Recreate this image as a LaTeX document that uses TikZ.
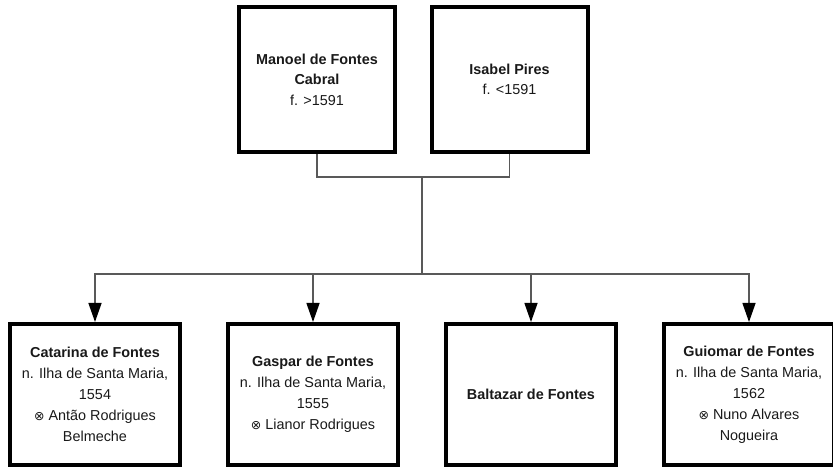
\documentclass[tikz,border=0pt]{standalone}
\usepackage{fontspec}
\setmainfont{Liberation Sans}
\newfontfamily\symfont{DejaVu Sans}
\usetikzlibrary{arrows.meta}
\tikzset{
 person/.style={draw=black, line width=4pt, minimum width=156pt, minimum height=145pt, align=center, inner sep=0pt, text=black!90, font=\fontsize{14.4}{20.5}\selectfont},
 childbox/.style={person, minimum width=170pt, minimum height=141pt, font=\fontsize{14.4}{21}\selectfont},
 link/.style={draw=black!65, line width=1.3pt},
 arr/.style={link, -{Triangle[width=13pt,length=19pt,fill=black,color=black]}},
}
\newcommand{\marsym}{{\symfont\fontsize{12.5}{12.5}\selectfont ⊗}}
\begin{document}
\begin{tikzpicture}[x=1pt,y=-1pt]
\useasboundingbox (0,0) rectangle (833,470);
\clip (0,0) rectangle (833,470);
\node[person] (m) at (317,79.5) {\textbf{Manoel de Fontes}\\\textbf{Cabral}\\f. >1591};
\node[person] (i) at (509.5,79.5) {\textbf{Isabel Pires}\\f. <1591};
\node[childbox] (c1) at (95,394.5) {\textbf{Catarina de Fontes}\\n. Ilha de Santa Maria,\\1554\\\marsym\ Antão Rodrigues\\Belmeche};
\node[childbox] (c2) at (313,394.5) {\textbf{Gaspar de Fontes}\\n. Ilha de Santa Maria,\\1555\\\marsym\ Lianor Rodrigues};
\node[childbox] (c3) at (531,394.5) {\textbf{Baltazar de Fontes}};
\node[childbox] (c4) at (749,394.5) {\textbf{Guiomar de Fontes}\\n. Ilha de Santa Maria,\\1562\\\marsym\ Nuno Alvares\\Nogueira};
\coordinate (j) at (422,177);
\coordinate (k) at (422,274);
\draw[link] (m.south) |- (j) -| (i.south);
\draw[link] (j) -- (k);
\draw[arr] (k) -| (c1.north);
\draw[arr] (k) -| (c2.north);
\draw[arr] (k) -| (c3.north);
\draw[arr] (k) -| (c4.north);
\end{tikzpicture}
\end{document}
